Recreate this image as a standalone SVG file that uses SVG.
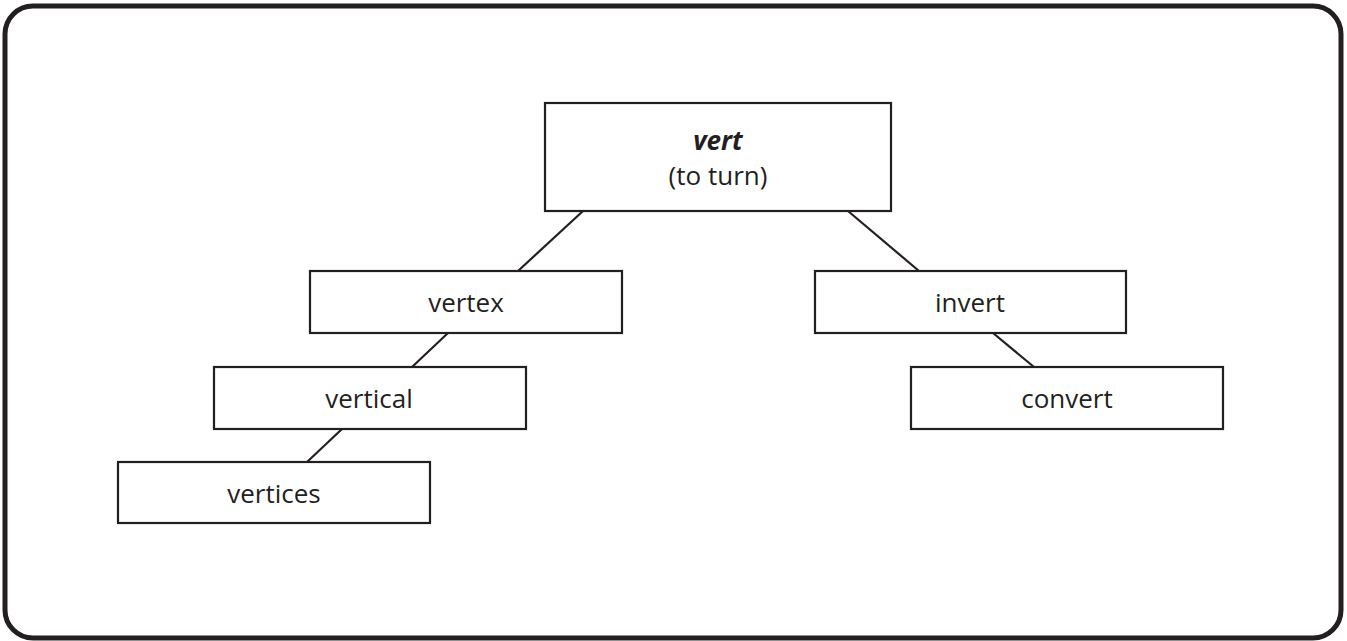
<svg xmlns="http://www.w3.org/2000/svg" width="1347" height="641" viewBox="0 0 1347 641">
  <style>
    .box { fill: #ffffff; stroke: #231f20; stroke-width: 2.2; }
    .lbl { font-family: "Open Sans", "Noto Sans", sans-serif; font-size: 26px; fill: #231f20; text-anchor: middle; }
    .bi { font-weight: bold; font-style: italic; }
    .con { stroke: #231f20; stroke-width: 2.2; fill: none; }
  </style>
  <rect x="0" y="0" width="1347" height="641" fill="#ffffff"/>
  <rect id="frame" x="5" y="6" width="1336" height="632" rx="28" ry="28" fill="none" stroke="#231f20" stroke-width="5"/>
  <g id="connectors">
    <line class="con" x1="583" y1="211" x2="518" y2="271"/>
    <line class="con" x1="848" y1="211" x2="919" y2="271"/>
    <line class="con" x1="448" y1="333" x2="412" y2="367"/>
    <line class="con" x1="342" y1="429" x2="307" y2="462"/>
    <line class="con" x1="993" y1="333" x2="1034" y2="367"/>
  </g>
  <g id="node-vert">
    <rect class="box" x="545" y="103" width="346" height="108"/>
    <text class="lbl bi" x="718" y="150">vert</text>
    <text class="lbl" x="718" y="185">(to turn)</text>
  </g>
  <g id="node-vertex">
    <rect class="box" x="310" y="271" width="312" height="62"/>
    <text class="lbl" x="466" y="312">vertex</text>
  </g>
  <g id="node-invert">
    <rect class="box" x="815" y="271" width="311" height="62"/>
    <text class="lbl" x="970" y="312">invert</text>
  </g>
  <g id="node-vertical">
    <rect class="box" x="214" y="367" width="312" height="62"/>
    <text class="lbl" x="369" y="408">vertical</text>
  </g>
  <g id="node-convert">
    <rect class="box" x="911" y="367" width="312" height="62"/>
    <text class="lbl" x="1067" y="408">convert</text>
  </g>
  <g id="node-vertices">
    <rect class="box" x="118" y="462" width="312" height="61"/>
    <text class="lbl" x="274" y="503">vertices</text>
  </g>
</svg>
